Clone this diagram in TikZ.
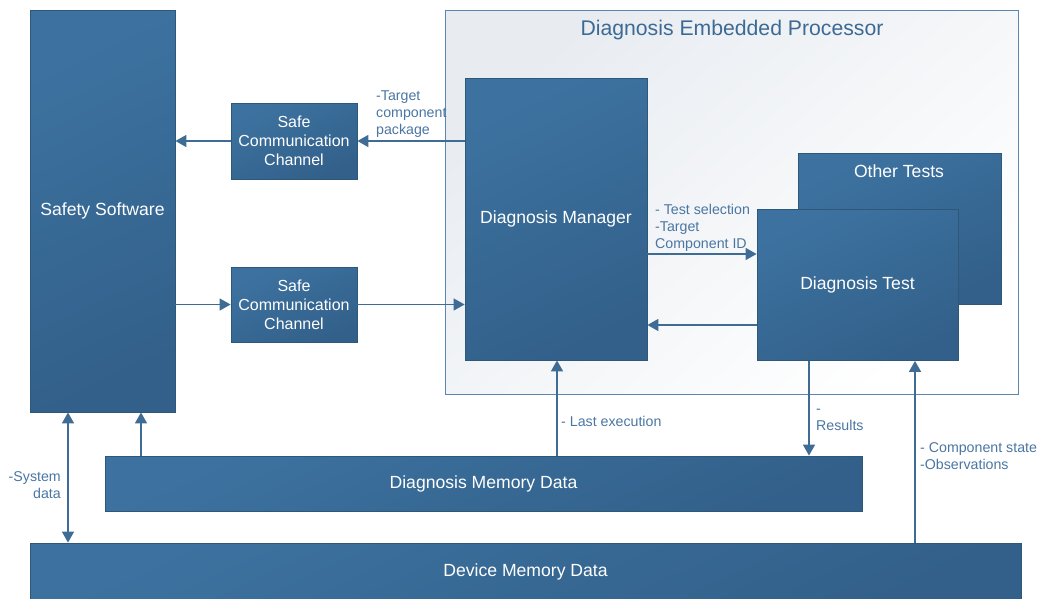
\documentclass[tikz,border=0pt]{standalone}
\usepackage{fontspec}
\setmainfont{Liberation Sans}
\usetikzlibrary{arrows.meta,calc}
\definecolor{boxA}{HTML}{3D72A0}
\definecolor{boxB}{HTML}{32608A}
\definecolor{boxline}{HTML}{2D5879}
\definecolor{conn}{HTML}{3E6C95}
\definecolor{lbl}{HTML}{4A76A2}
\definecolor{contA}{HTML}{E8ECF1}
\definecolor{contline}{HTML}{5B86AF}
\definecolor{titlec}{HTML}{3C6A94}
\tikzset{
  blk/.style={draw=boxline, line width=0.8pt, top color=boxA, bottom color=boxB, shading angle=25,
     text=white, align=center, inner sep=0pt, font=\fontsize{17.6}{20}\selectfont},
  conbox/.style={draw=contline, line width=1pt, top color=contA, bottom color=white, shading angle=40, inner sep=0pt},
  arr/.style={draw=conn, line width=1.4pt, -{Triangle[length=11pt,width=12pt]}},
  darr/.style={draw=conn, line width=1.4pt, {Triangle[length=11pt,width=12pt]}-{Triangle[length=11pt,width=12pt]}},
  lab/.style={text=lbl, align=left, inner sep=0pt, font=\fontsize{14.2}{17}\selectfont},
}
\begin{document}
\begin{tikzpicture}[x=1pt,y=-1pt]
\useasboundingbox (0,0) rectangle (1038,598);
% container
\node[conbox, minimum width=573pt, minimum height=384pt] (dep) at (731.5,202) {};
\node[text=titlec, inner sep=0pt, font=\fontsize{21.2}{25}\selectfont] (deptitle) at (732,30) {Diagnosis Embedded Processor};
% blocks
\node[blk, minimum width=145pt, minimum height=402pt] (ss) at (102.5,211) {Safety Software};
\node[blk, minimum width=126pt, minimum height=76pt, font=\fontsize{16}{19}\selectfont] (scc1) at (294,141) {Safe\\Communication\\Channel};
\node[blk, minimum width=126pt, minimum height=75pt, font=\fontsize{16}{19}\selectfont] (scc2) at (294,304.5) {Safe\\Communication\\Channel};
\node[blk, minimum width=182pt, minimum height=282pt] (dm) at (556,219) {Diagnosis Manager};
\node[blk, minimum width=203pt, minimum height=151pt] (ot) at (899.5,228.5) {};
\node[text=white, inner sep=0pt, font=\fontsize{17.6}{20}\selectfont] (ottxt) at (899,171) {Other Tests};
\node[blk, minimum width=201pt, minimum height=151pt] (dt) at (857.5,285) {Diagnosis Test};
\node[blk, minimum width=757pt, minimum height=55pt] (dmd) at (483.5,483.5) {Diagnosis Memory Data};
\node[blk, minimum width=991pt, minimum height=58pt] (devmd) at (525.5,572) {Device Memory Data};
% helper coordinates
\coordinate (yA) at (700,254);
\coordinate (yB) at (700,325);
\coordinate (xA) at (557,420);
\coordinate (xB) at (809,420);
\coordinate (xC) at (915,420);
\coordinate (xD) at (141,430);
\coordinate (xE) at (68,430);
% connectors
\draw[arr] (dm.west |- scc1.east) -- (scc1.east);
\draw[arr] (scc1.west) -- (ss.east |- scc1.west);
\draw[arr] (ss.east |- scc2.west) -- (scc2.west);
\draw[arr] (scc2.east) -- (dm.west |- scc2.east);
\draw[arr] (dm.east |- yA) -- (dt.west |- yA);
\draw[arr] (dt.west |- yB) -- (dm.east |- yB);
\draw[arr] (dmd.north -| xA) -- (dm.south -| xA);
\draw[arr] (dt.south -| xB) -- (dmd.north -| xB);
\draw[arr] (devmd.north -| xC) -- (dt.south -| xC);
\draw[arr] (dmd.north -| xD) -- (ss.south -| xD);
\draw[darr] (ss.south -| xE) -- (devmd.north -| xE);
% labels
\node[lab, anchor=north west] (l1) at (376,91) {-Target\\component\\package};
\node[lab, anchor=north west] (l2) at (655,204) {- Test selection\\-Target\\Component ID};
\node[lab, anchor=west] (l3) at (561,421) {- Last execution};
\node[lab, anchor=north west] (l4) at (816,409) {-\\Results};
\node[lab, anchor=north west] (l5) at (920,442) {- Component state\\-Observations};
\node[lab, anchor=north east, align=right] (l6) at (61,471) {-System\\data};
\end{tikzpicture}
\end{document}
